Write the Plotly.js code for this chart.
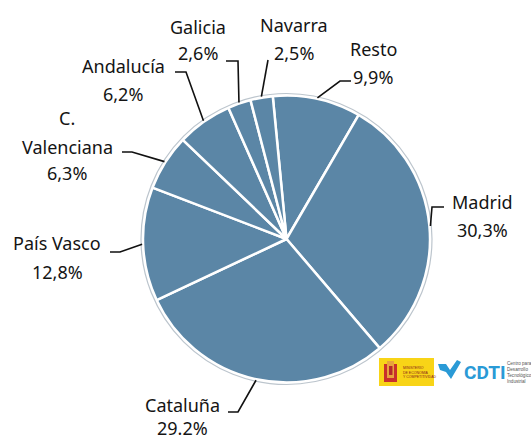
<!DOCTYPE html>
<html><head><meta charset="utf-8">
<script src="https://cdn.plot.ly/plotly-3.0.1.min.js"></script>
<style>html,body{margin:0;padding:0;background:#fff}#chart{width:531px;height:439px}</style>
</head><body><div id="chart"></div>
<script>
// ---- data ----
const regions = ["Resto", "Madrid", "Cataluña", "País Vasco", "C. Valenciana", "Andalucía", "Galicia", "Navarra"];
const shares = [9.9, 30.3, 29.2, 12.8, 6.3, 6.2, 2.6, 2.5];
const nameLines = [["Resto"], ["Madrid"], ["Cataluña"], ["País Vasco"], ["C.", "Valenciana"], ["Andalucía"], ["Galicia"], ["Navarra"]];
const valueLabels = ["9,9%", "30,3%", "29.2%", "12,8%", "6,3%", "6,2%", "2,6%", "2,5%"];

// ---- layout constants (pixels) ----
const W = 531, H = 439;
const CX = 286.5, CY = 239, R = 143.5, ROT = -5.5;
const px = x => x / W;
const py = y => 1 - y / H;

// label placement: centre x, line y's, leader points (from text towards pie)
const labelPos = [
  {x: 373, y: [49, 77], lead: [[340, 81], [351, 81]]},
  {x: 482, y: [202, 230], lead: [[432, 207], [444, 207]]},
  {x: 182, y: [405, 428], lead: [[238, 412], [228, 412]]},
  {x: 57, y: [243, 272], lead: [[120, 252], [110, 252]]},
  {x: 67, y: [118, 147, 173], lead: [[132, 152], [122, 152]]},
  {x: 123, y: [66, 94], lead: [[186, 72], [175, 72]]},
  {x: 198, y: [27, 53], lead: [[238, 61], [226, 61]]},
  {x: 294, y: [25, 53], lead: [[268, 60]]}
];

const total = shares.reduce((a, b) => a + b, 0);
const font = {family: "Noto Sans, DejaVu Sans, sans-serif", size: 18, color: "#141414"};
const annotations = [];
const shapes = [];

// outer grey ring of the pie
shapes.push({type: "circle", xref: "paper", yref: "paper", layer: "above",
  x0: px(CX - R - 2), x1: px(CX + R + 2), y0: py(CY + R + 2), y1: py(CY - R - 2),
  line: {color: "#bcc5cd", width: 1.2}});

let cum = 0;
shares.forEach((v, i) => {
  const mid = (ROT + (cum + v / 2) / total * 360) * Math.PI / 180;
  cum += v;
  const ax = CX + (R + 1) * Math.sin(mid), ay = CY - (R + 1) * Math.cos(mid);
  const L = labelPos[i];
  const lines = nameLines[i].concat([valueLabels[i]]);
  lines.forEach((t, k) => {
    annotations.push({text: t, x: px(L.x), y: py(L.y[k]), xref: "paper", yref: "paper",
      xanchor: "center", yanchor: "middle", showarrow: false, font: font});
  });
  const pts = [[ax, ay]].concat(L.lead);
  const path = pts.map((p, k) => (k ? "L " : "M ") + px(p[0]) + " " + py(p[1])).join(" ");
  shapes.push({type: "path", xref: "paper", yref: "paper", path: path,
    line: {color: "#111", width: 1.6}});
});

// ---- logos (bottom right) ----
shapes.push({type: "rect", xref: "paper", yref: "paper", x0: px(379), x1: px(434), y0: py(386), y1: py(358),
  fillcolor: "#f8d417", line: {width: 0}});
shapes.push({type: "rect", xref: "paper", yref: "paper", x0: px(384), x1: px(397), y0: py(382), y1: py(364),
  fillcolor: "#c9302c", line: {width: 0}});
shapes.push({type: "rect", xref: "paper", yref: "paper", x0: px(387), x1: px(394), y0: py(378), y1: py(361),
  fillcolor: "#e8a33d", line: {width: 0}});
shapes.push({type: "rect", xref: "paper", yref: "paper", x0: px(389), x1: px(392.5), y0: py(375), y1: py(366),
  fillcolor: "#b52a2a", line: {width: 0}});
annotations.push({text: "MINISTERIO<br>DE ECONOMÍA<br>Y COMPETITIVIDAD", x: px(401), y: py(372), xref: "paper", yref: "paper",
  xanchor: "left", yanchor: "middle", showarrow: false, align: "left",
  font: {family: "Liberation Sans, Arial, sans-serif", size: 3.5, color: "#8a1c1c"}});
// CDTI mark
shapes.push({type: "path", xref: "paper", yref: "paper",
  path: ["M", px(438), py(364), "L", px(446), py(364), "L", px(450), py(370), "L", px(457), py(360),
         "L", px(461), py(362), "L", px(451), py(379), "L", px(446), py(372), "L", px(440), py(370), "Z"].join(" "),
  fillcolor: "#2a9ad6", line: {width: 0}});
annotations.push({text: "<b>CDTI</b>", x: px(462), y: py(372), xref: "paper", yref: "paper",
  xanchor: "left", yanchor: "middle", showarrow: false,
  font: {family: "Roboto, Liberation Sans, sans-serif", size: 19, color: "#2a9ad6"}});
annotations.push({text: "Centro para<br>Desarrollo<br>Tecnológico<br>Industrial", x: px(505), y: py(372), xref: "paper", yref: "paper",
  xanchor: "left", yanchor: "middle", showarrow: false, align: "left",
  font: {family: "Liberation Sans, Arial, sans-serif", size: 4.6, color: "#555"}});

const trace = {
  type: "pie",
  labels: regions,
  values: shares,
  sort: false,
  direction: "clockwise",
  rotation: ROT,
  textinfo: "none",
  hoverinfo: "label+percent",
  marker: {colors: regions.map(() => "#5b86a6"), line: {color: "#ffffff", width: 2.5}},
  domain: {x: [px(CX - R), px(CX + R)], y: [py(CY + R), py(CY - R)]},
  showlegend: false
};

const layout = {
  width: W, height: H,
  margin: {l: 0, r: 0, t: 0, b: 0},
  paper_bgcolor: "#ffffff",
  showlegend: false,
  annotations: annotations,
  shapes: shapes
};

Plotly.newPlot("chart", [trace], layout, {displayModeBar: false, staticPlot: true});
</script>
</body></html>
